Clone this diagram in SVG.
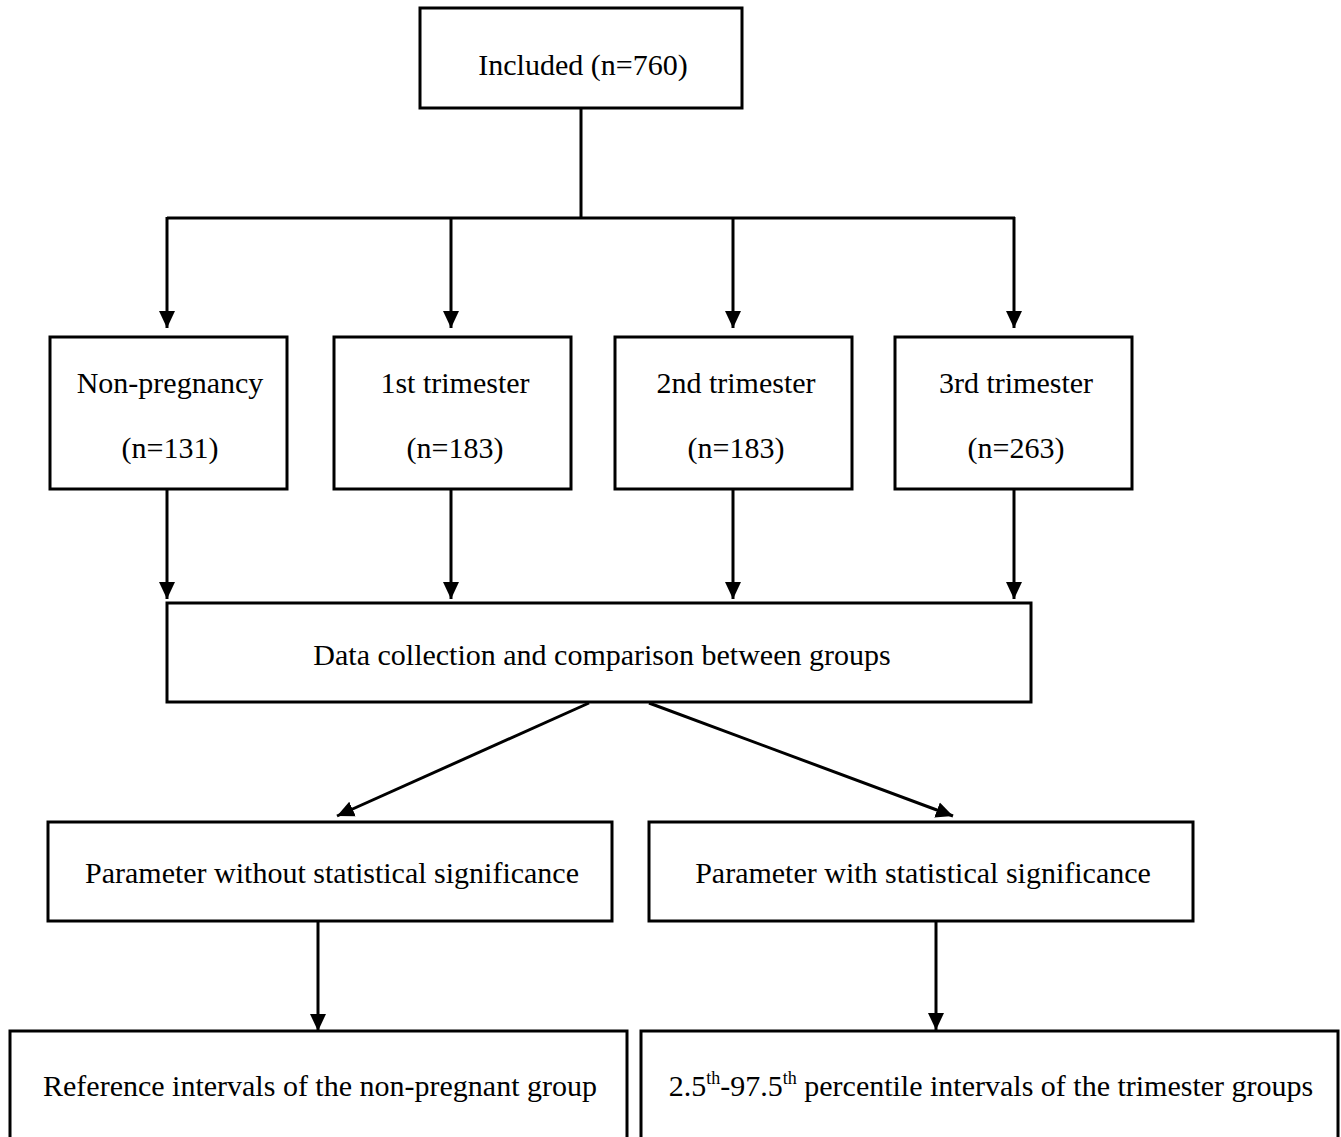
<svg xmlns="http://www.w3.org/2000/svg" width="1341" height="1137" viewBox="0 0 1341 1137">
<defs>
<style>
.box{fill:#fff;stroke:#000;stroke-width:3}
.t{font-family:"Liberation Serif","Times New Roman",serif;font-size:30px;fill:#000;text-anchor:middle}
.c{stroke:#000;stroke-width:3;fill:none}
.a{stroke:#000;stroke-width:3;fill:none;marker-end:url(#ah)}
</style>
<marker id="ah" markerUnits="userSpaceOnUse" markerWidth="18" markerHeight="18" refX="17" refY="8" orient="auto" viewBox="0 0 18 16">
<path d="M0,0 L17,8 L0,16 z" fill="#000"/>
</marker>
</defs>
<rect width="1341" height="1137" fill="#fff"/>
<g id="connectors">
<path class="c" d="M581,108 V218 M167,218 H1015"/>
<line class="a" x1="167" y1="217" x2="167" y2="328"/>
<line class="a" x1="451" y1="217" x2="451" y2="328"/>
<line class="a" x1="733" y1="217" x2="733" y2="328"/>
<line class="a" x1="1014" y1="217" x2="1014" y2="328"/>
<line class="a" x1="167" y1="489" x2="167" y2="599"/>
<line class="a" x1="451" y1="489" x2="451" y2="599"/>
<line class="a" x1="733" y1="489" x2="733" y2="599"/>
<line class="a" x1="1014" y1="489" x2="1014" y2="599"/>
<line class="a" x1="589" y1="703" x2="337" y2="816"/>
<line class="a" x1="649" y1="703" x2="953" y2="816"/>
<line class="a" x1="318" y1="921" x2="318" y2="1031"/>
<line class="a" x1="936" y1="921" x2="936" y2="1030"/>
</g>
<g id="included">
<rect class="box" x="420" y="8" width="322" height="100"/>
<text class="t" x="583" y="75">Included (n=760)</text>
</g>
<g id="nonpreg">
<rect class="box" x="50" y="337" width="237" height="152"/>
<text class="t" x="170" y="393">Non-pregnancy</text>
<text class="t" x="170" y="458">(n=131)</text>
</g>
<g id="first">
<rect class="box" x="334" y="337" width="237" height="152"/>
<text class="t" x="455" y="393">1st trimester</text>
<text class="t" x="455" y="458">(n=183)</text>
</g>
<g id="second">
<rect class="box" x="615" y="337" width="237" height="152"/>
<text class="t" x="736" y="393">2nd trimester</text>
<text class="t" x="736" y="458">(n=183)</text>
</g>
<g id="third">
<rect class="box" x="895" y="337" width="237" height="152"/>
<text class="t" x="1016" y="393">3rd trimester</text>
<text class="t" x="1016" y="458">(n=263)</text>
</g>
<g id="data">
<rect class="box" x="167" y="603" width="864" height="99"/>
<text class="t" x="602" y="665">Data collection and comparison between groups</text>
</g>
<g id="without">
<rect class="box" x="48" y="822" width="564" height="99"/>
<text class="t" x="332" y="883">Parameter without statistical significance</text>
</g>
<g id="with">
<rect class="box" x="649" y="822" width="544" height="99"/>
<text class="t" x="923" y="883">Parameter with statistical significance</text>
</g>
<g id="refint">
<rect class="box" x="10" y="1031" width="617" height="130"/>
<text class="t" x="320" y="1096">Reference intervals of the non-pregnant group</text>
</g>
<g id="percint">
<rect class="box" x="641" y="1031" width="697" height="130"/>
<text class="t" x="991" y="1096">2.5<tspan dy="-12" font-size="18">th</tspan><tspan dy="12">-97.5</tspan><tspan dy="-12" font-size="18">th</tspan><tspan dy="12"> percentile intervals of the trimester groups</tspan></text>
</g>
</svg>
